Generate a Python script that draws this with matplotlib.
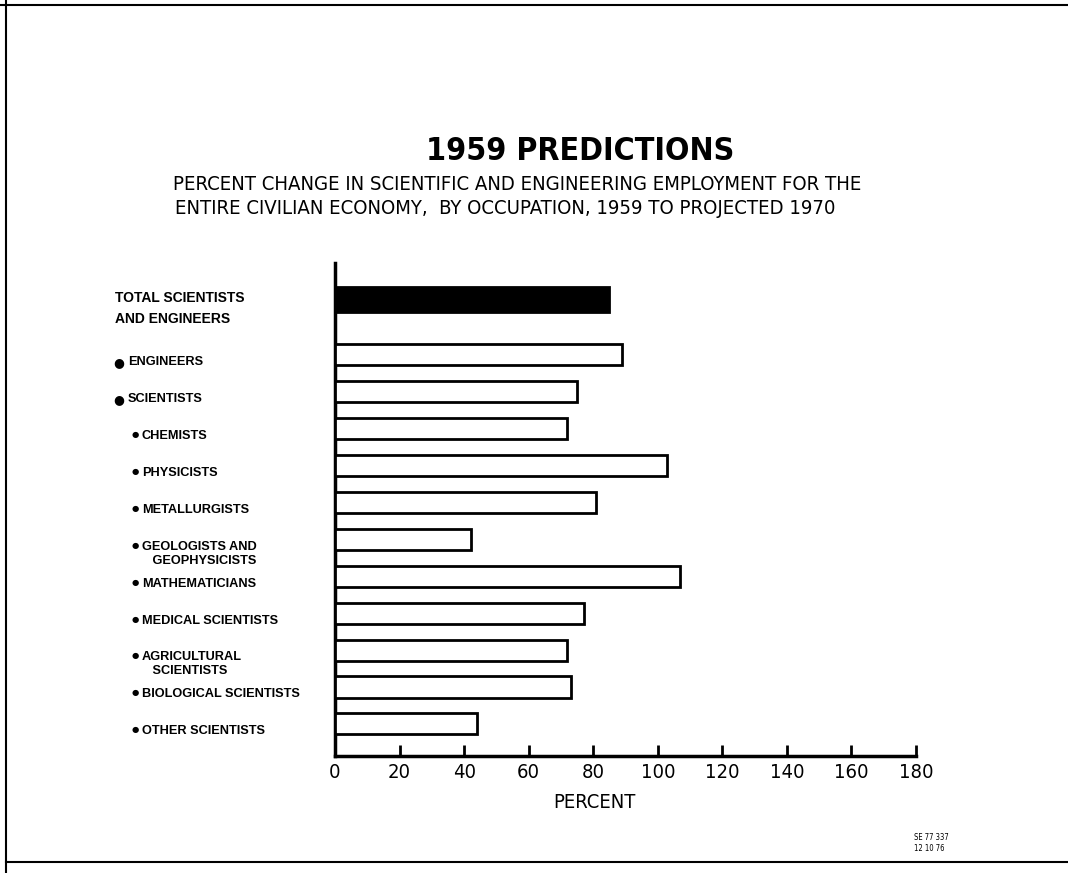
import matplotlib
matplotlib.use('Agg')
import matplotlib.pyplot as plt
from matplotlib.lines import Line2D
from matplotlib import font_manager
from matplotlib.font_manager import FontProperties

categories = ["TOTAL SCIENTISTS\nAND ENGINEERS", "ENGINEERS", "SCIENTISTS", "CHEMISTS",
              "PHYSICISTS", "METALLURGISTS", "GEOLOGISTS AND\n   GEOPHYSICISTS",
              "MATHEMATICIANS", "MEDICAL SCIENTISTS", "AGRICULTURAL\n   SCIENTISTS",
              "BIOLOGICAL SCIENTISTS", "OTHER SCIENTISTS"]
levels = [0, 1, 1, 2, 2, 2, 2, 2, 2, 2, 2, 2]
values = [85, 89, 75, 72, 103, 81, 42, 107, 77, 72, 73, 44]
xticks = [0, 20, 40, 60, 80, 100, 120, 140, 160, 180]


# ---- pick a condensed font (regular and bold) ----
def _w(f):
    w = f.weight
    if isinstance(w, str):
        return {'bold': 700, 'heavy': 800, 'black': 900, 'semibold': 600, 'demibold': 600,
                'normal': 400, 'regular': 400, 'book': 400, 'medium': 500, 'light': 300}.get(w.lower(), 400)
    return int(w)


def _narrow(f):
    s = str(f.stretch).lower()
    return ('condensed' in f.name.lower() or 'narrow' in f.name.lower()
            or 'condensed' in f.fname.lower() or 'narrow' in f.fname.lower()
            or s in ('condensed', 'semi-condensed', 'extra-condensed', 'ultra-condensed'))


cands = [f for f in font_manager.fontManager.ttflist if _narrow(f) and f.style == 'normal']


def _pick(bold):
    pool = [f for f in cands if (_w(f) >= 700) == bold and 'light' not in f.fname.lower()]
    if not pool:
        return None
    def rank(f):
        n = f.name.lower() + f.fname.lower()
        if 'liberation' in n:
            return 0
        if 'dejavu' in n:
            return 1
        return 2
    pool.sort(key=rank)
    return pool[0].fname


reg_file = _pick(False)
bold_file = _pick(True)
fp_reg = FontProperties(fname=reg_file) if reg_file else FontProperties(family='DejaVu Sans')
fp_bold = FontProperties(fname=bold_file) if bold_file else FontProperties(family='DejaVu Sans', weight='bold')


def fpr(size):
    p = fp_reg.copy()
    p.set_size(size)
    return p


def fpb(size):
    p = fp_bold.copy()
    p.set_size(size)
    return p


fig = plt.figure(figsize=(10.68, 8.73), dpi=100)
W, H = 1068, 873
ax = fig.add_axes([335 / W, 1 - 756 / H, (916 - 335) / W, (756 - 263) / H])

pos = [-1.5] + list(range(len(values) - 1))
heights = [0.68] + [0.57] * (len(values) - 1)
colors = ['black'] + ['white'] * (len(values) - 1)
ax.barh(pos, values, height=heights, color=colors, edgecolor='black', linewidth=2.0, zorder=3)

ax.set_xlim(0, 180)
ax.set_ylim(10.87, -2.49)
ax.set_xticks(xticks)
ax.set_xticklabels([str(t) for t in xticks])
for t in ax.get_xticklabels():
    t.set_fontproperties(fpr(14.5))
ax.set_yticks([])
ax.tick_params(axis='x', direction='in', length=8, width=2, pad=5)
for s in ['top', 'right']:
    ax.spines[s].set_visible(False)
for s in ['left', 'bottom']:
    ax.spines[s].set_linewidth(2.5)
ax.set_xlabel("PERCENT", fontproperties=fpr(14.5), labelpad=9)
ax.xaxis.set_label_coords((594 - 335) / (916 - 335), -0.076)

# category labels
for lab, lev, p in zip(categories, levels, pos):
    if lev == 0:
        ax.annotate(lab, xy=(115 / W, p), xycoords=('figure fraction', 'data'),
                    xytext=(0, 6), textcoords='offset points', va='top', ha='left',
                    fontsize=10, fontweight='bold', family=['Liberation Sans', 'DejaVu Sans'],
                    linespacing=1.6)
    else:
        bx = 119 / W if lev == 1 else 135 / W
        tx = 128 / W if lev == 1 else 142 / W
        bs = 9 if lev == 1 else 6
        ax.annotate("●", xy=(bx, p), xycoords=('figure fraction', 'data'),
                    xytext=(0, -1), textcoords='offset points', va='top', ha='center',
                    fontsize=bs, family='DejaVu Sans')
        ax.annotate(lab, xy=(tx, p), xycoords=('figure fraction', 'data'),
                    xytext=(0, -1), textcoords='offset points', va='top', ha='left',
                    fontsize=9.2, fontweight='bold', family=['Liberation Sans', 'DejaVu Sans'],
                    linespacing=1.2)

fig.text(580 / W, 1 - 151 / H, "1959 PREDICTIONS", ha='center', va='center',
         fontproperties=fpb(23))
fig.text(173 / W, 1 - 185 / H, "PERCENT CHANGE IN SCIENTIFIC AND ENGINEERING EMPLOYMENT FOR THE",
         ha='left', va='center', fontproperties=fpr(14.6))
fig.text(175 / W, 1 - 208 / H, "ENTIRE CIVILIAN ECONOMY,  BY OCCUPATION, 1959 TO PROJECTED 1970",
         ha='left', va='center', fontproperties=fpr(14.6))
fig.text(914 / W, 1 - 843 / H, "SE 77 337\n12 10 76", ha='left', va='center',
         fontproperties=fpr(5.5), linespacing=1.3)

# scanned page frame
fig.add_artist(Line2D([0, 1], [1 - 5 / H, 1 - 5 / H], transform=fig.transFigure, color='black', lw=1.5))
fig.add_artist(Line2D([6 / W, 6 / W], [0, 1], transform=fig.transFigure, color='black', lw=1.5))
fig.add_artist(Line2D([6 / W, 1], [1 - 862 / H, 1 - 862 / H], transform=fig.transFigure, color='black', lw=1.5))

fig.savefig('out.png', dpi=100)
